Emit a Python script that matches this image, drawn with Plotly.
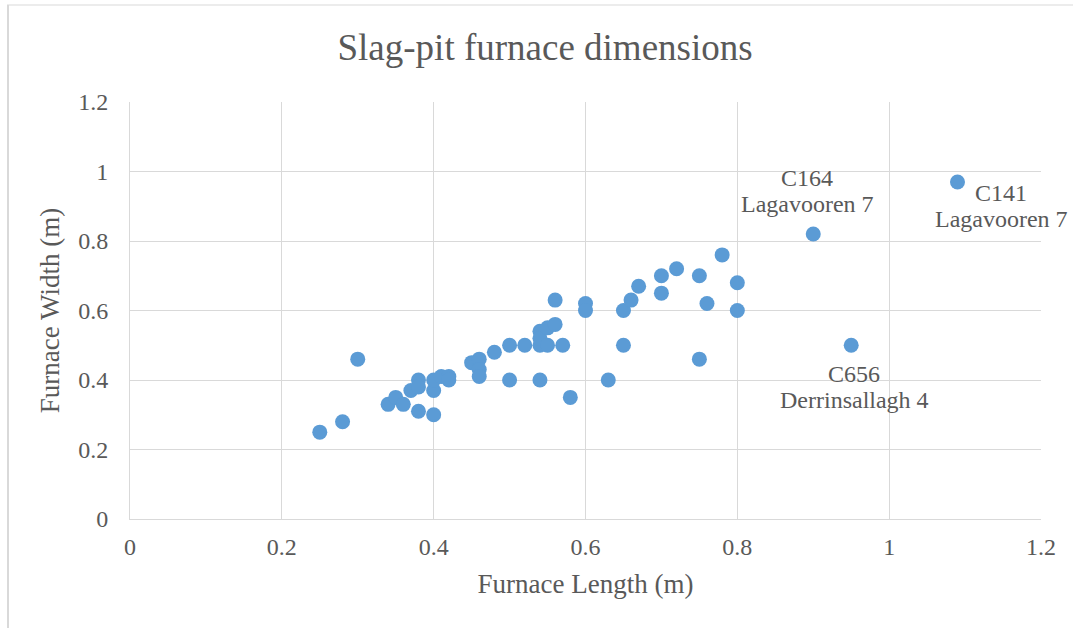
import plotly.graph_objects as go

length_m = [0.25, 0.28, 0.30, 0.34, 0.35, 0.36, 0.37, 0.38, 0.38, 0.38, 0.40, 0.40, 0.40,
            0.41, 0.42, 0.42, 0.45, 0.46, 0.46, 0.46, 0.48, 0.50, 0.50, 0.52, 0.54, 0.54,
            0.54, 0.54, 0.55, 0.55, 0.56, 0.56, 0.57, 0.58, 0.60, 0.60, 0.63, 0.65, 0.65,
            0.66, 0.67, 0.70, 0.70, 0.72, 0.75, 0.75, 0.76, 0.78, 0.80, 0.80, 0.90, 0.95, 1.09]
width_m = [0.25, 0.28, 0.46, 0.33, 0.35, 0.33, 0.37, 0.40, 0.38, 0.31, 0.30, 0.37, 0.40,
           0.41, 0.41, 0.40, 0.45, 0.46, 0.43, 0.41, 0.48, 0.50, 0.40, 0.50, 0.40, 0.50,
           0.54, 0.52, 0.50, 0.55, 0.56, 0.63, 0.50, 0.35, 0.62, 0.60, 0.40, 0.50, 0.60,
           0.63, 0.67, 0.70, 0.65, 0.72, 0.70, 0.46, 0.62, 0.76, 0.68, 0.60, 0.82, 0.50, 0.97]

label_x = [0.90, 1.09, 0.95]
label_y = [0.82, 0.97, 0.50]
label_text = ["C164<br>Lagavooren 7", "C141<br>Lagavooren 7", "C656<br>Derrinsallagh 4"]

tick_vals = [0, 0.2, 0.4, 0.6, 0.8, 1, 1.2]
tick_text = ["0", "0.2", "0.4", "0.6", "0.8", "1", "1.2"]

FONT = "Liberation Serif"
GREY = "#595959"

# pixel offsets of each label's first line from its point, (dx, dy up)
label_offsets = [(-6, 56), (44, -11), (3, -29)]
LINE_STEP = 26

fig = go.Figure()
fig.add_trace(go.Scatter(
    x=length_m, y=width_m, mode="markers",
    marker=dict(size=15, color="#5b9bd5"),
    showlegend=False, hoverinfo="x+y",
))

for x, y, t, (dx, dy) in zip(label_x, label_y, label_text, label_offsets):
    for i, line in enumerate(t.split("<br>")):
        fig.add_annotation(x=x, y=y, text=line, showarrow=False,
                           xanchor="center", yanchor="middle",
                           xshift=dx, yshift=dy - i * LINE_STEP,
                           font=dict(family=FONT, size=24, color=GREY))

axis_common = dict(
    range=[0, 1.2], tickvals=tick_vals, ticktext=tick_text,
    showgrid=True, gridcolor="#d9d9d9", gridwidth=1,
    zeroline=False, showline=True, linecolor="#d9d9d9", linewidth=1,
    tickfont=dict(family=FONT, size=24, color=GREY), ticks="",
    fixedrange=True,
)

fig.update_layout(
    width=1073, height=628,
    margin=dict(l=130, r=32, t=102, b=109),
    paper_bgcolor="white", plot_bgcolor="white",
    title=dict(text="Slag-pit furnace dimensions", x=0.508, xanchor="center",
               y=0.925, yanchor="middle",
               font=dict(family=FONT, size=37, color=GREY)),
    xaxis=dict(**axis_common, ticklabelstandoff=6,
               title=dict(text="Furnace Length (m)", standoff=15,
                          font=dict(family=FONT, size=27, color=GREY))),
    yaxis=dict(**axis_common, ticklabelstandoff=16,
               title=dict(text="Furnace Width (m)", standoff=10,
                          font=dict(family=FONT, size=27, color=GREY))),
    shapes=[
        dict(type="line", xref="paper", yref="paper",
             x0=(8 - 130) / 911, x1=(8 - 130) / 911, y0=(519 - 5) / 417, y1=(519 - 640) / 417,
             line=dict(color="#d9d9d9", width=2)),
        dict(type="line", xref="paper", yref="paper",
             x0=(7 - 130) / 911, x1=(1080 - 130) / 911, y0=(519 - 5) / 417, y1=(519 - 5) / 417,
             line=dict(color="#d9d9d9", width=1)),
    ],
)

fig.write_html("out.html")
